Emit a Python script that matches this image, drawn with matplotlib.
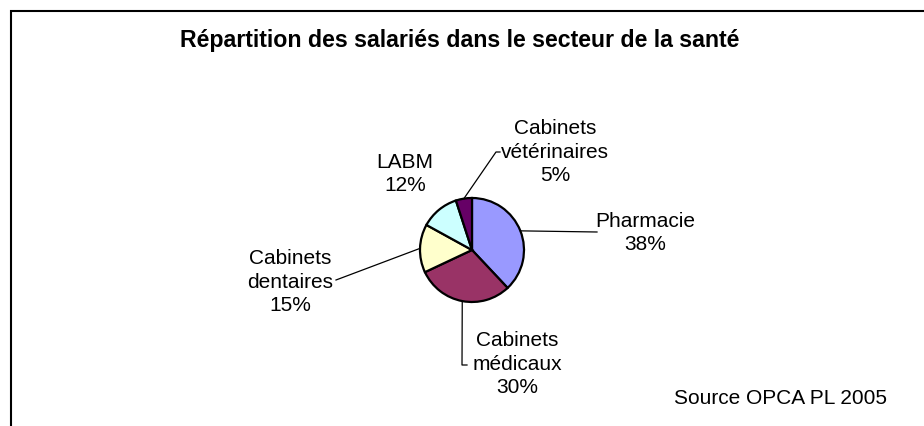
import numpy as np
import matplotlib
matplotlib.use("Agg")
import matplotlib.pyplot as plt
from matplotlib.patches import Rectangle

plt.rcParams['font.family'] = ['Liberation Sans', 'DejaVu Sans']

title = "Répartition des salariés dans le secteur de la santé"
categories = ["Pharmacie", "Cabinets médicaux", "Cabinets dentaires", "LABM", "Cabinets vétérinaires"]
label_texts = ["Pharmacie", "Cabinets\nmédicaux", "Cabinets\ndentaires", "LABM", "Cabinets\nvétérinaires"]
values = [38, 30, 15, 12, 5]
colors = ["#9999FF", "#993366", "#FFFFCC", "#CCFFFF", "#660066"]
source = "Source OPCA PL 2005"

W, H = 924, 426
fig = plt.figure(figsize=(W / 100, H / 100), dpi=100)
ax = fig.add_axes([0, 0, 1, 1])

# chart border (extends beyond the image on right/bottom)
ax.add_patch(Rectangle((10.5, -20), 960, H - 10.5 + 20, fill=False, lw=1.5, ec='black'))

cx, cy, r = 472, H - 250, 52
wedges, _ = ax.pie(values, colors=colors, startangle=90, counterclock=False,
                   center=(cx, cy), radius=r, frame=True,
                   wedgeprops=dict(edgecolor='black', linewidth=1.6))
ax.set_xlim(0, W)
ax.set_ylim(0, H)
ax.set_aspect('equal')
ax.axis('off')

ax.text(460, H - 40, title, ha='center', va='center', fontsize=16.7, fontweight='bold')
ax.text(780, H - 398, source, ha='center', va='center', fontsize=15)

# label positions (pixel coords, y from top) and leader line elbows
label_pos = [(645, 233), (517, 364), (290, 282), (405, 174), (555, 152)]
elbows = [[(597, 232)], [(462, 365), (467, 365)], [(336, 280)], [], [(496, 152), (500, 152)]]

cum = 0
for i, v in enumerate(values):
    mid = 90 - 360 * (cum + v / 2) / sum(values)
    cum += v
    sx = cx + r * np.cos(np.radians(mid))
    sy = cy + r * np.sin(np.radians(mid))
    lx, ly = label_pos[i]
    ax.text(lx, H - ly, f"{label_texts[i]}\n{v}%", ha='center', va='center',
            fontsize=15, linespacing=1.3)
    if elbows[i]:
        xs = [sx] + [p[0] for p in elbows[i]]
        ys = [sy] + [H - p[1] for p in elbows[i]]
        ax.plot(xs, ys, color='black', lw=0.9)

fig.savefig("out.png", dpi=100)
